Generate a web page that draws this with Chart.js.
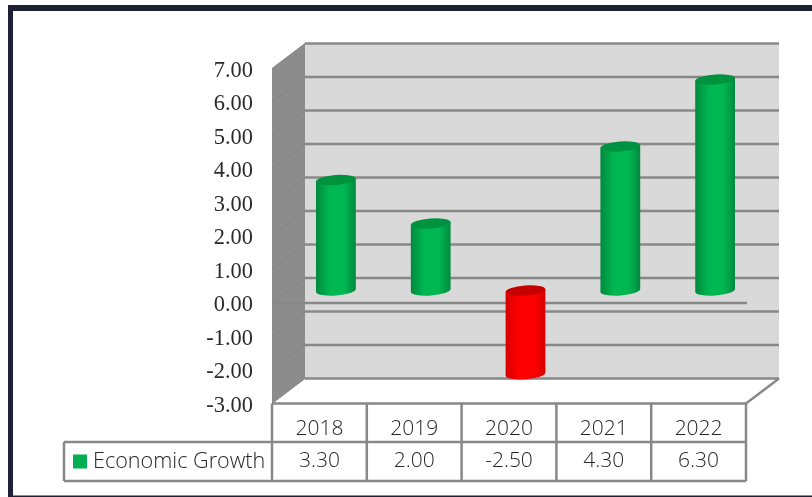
<!DOCTYPE html>
<html>
<head>
<meta charset="utf-8">
<style>
  html, body { margin: 0; padding: 0; background: #fff; }
  #wrap { position: relative; width: 812px; height: 497px; }
</style>
</head>
<body>
<div id="wrap"><canvas id="grafico"></canvas></div>
<script src="https://cdn.jsdelivr.net/npm/chart.js@4/dist/chart.umd.min.js"></script>
<script>
const years = ['2018', '2019', '2020', '2021', '2022'];
const growth = [3.30, 2.00, -2.50, 4.30, 6.30];
const seriesName = 'Economic Growth';
const axisMin = -3;
const axisMax = 7;

// depth of the fake 3D box
const depthX = 33;
const depthY = 25;

const lineColor = '#888888';
const tableFont = '300 21px "Open Sans"';
const legendFont = '300 21.6px "Open Sans"';

function cylinderColors(value) {
    if (value < 0) return { edge: '#d80000', mid: '#ff0000', cap: '#c40000' };
    return { edge: '#008a3e', mid: '#00b852', cap: '#00933f' };
}

function drawCylinder(ctx, x, top, bottom, halfW, value) {
    const c = cylinderColors(value);
    const ry = 5;
    const tilt = -4 * Math.PI / 180;
    const lift = Math.sin(tilt) * halfW;
    const grad = ctx.createLinearGradient(x - halfW, 0, x + halfW, 0);
    grad.addColorStop(0, c.edge);
    grad.addColorStop(0.35, c.mid);
    grad.addColorStop(0.7, c.mid);
    grad.addColorStop(1, c.edge);

    ctx.beginPath();
    ctx.moveTo(x - halfW, top - lift);
    ctx.lineTo(x + halfW, top + lift);
    ctx.lineTo(x + halfW, bottom + lift);
    ctx.ellipse(x, bottom, halfW, ry, tilt, 0, Math.PI);
    ctx.closePath();
    ctx.fillStyle = grad;
    ctx.fill();

    ctx.beginPath();
    ctx.ellipse(x, top, halfW, ry, tilt, 0, Math.PI * 2);
    ctx.fillStyle = c.cap;
    ctx.fill();
}

const boxPlugin = {
    id: 'box3d',
    beforeDraw(chart) {
        const ctx = chart.ctx;
        // picture frame round the chart
        ctx.save();
        ctx.fillStyle = '#1e2136';
        ctx.fillRect(8, 5, 804, 6);
        ctx.fillRect(8, 5, 5, 492);
        ctx.fillRect(8, 495.5, 804, 1.5);
        ctx.restore();
    },
    beforeDatasetsDraw(chart) {
        const ctx = chart.ctx;
        const y = chart.scales.y;
        const { left, right, top, bottom } = chart.chartArea;

        ctx.save();
        // back wall and side wall
        ctx.fillStyle = '#d9d9d9';
        ctx.fillRect(left + depthX, top - depthY, right - left, bottom - top);
        ctx.fillStyle = '#8c8c8c';
        ctx.beginPath();
        ctx.moveTo(left, top);
        ctx.lineTo(left + depthX, top - depthY);
        ctx.lineTo(left + depthX, bottom - depthY);
        ctx.lineTo(left, bottom);
        ctx.closePath();
        ctx.fill();

        // gridlines run along the side wall and across the back
        y.ticks.forEach((tick) => {
            const py = y.getPixelForValue(tick.value);
            ctx.strokeStyle = '#848484';
            ctx.lineWidth = 1;
            ctx.beginPath();
            ctx.moveTo(left, py);
            ctx.lineTo(left + depthX, py - depthY);
            ctx.stroke();
            ctx.strokeStyle = lineColor;
            ctx.lineWidth = 2.6;
            ctx.beginPath();
            ctx.moveTo(left + depthX, py - depthY);
            ctx.lineTo(right + depthX, py - depthY);
            ctx.stroke();
        });

        // floor edge on the right and axis line at zero
        ctx.strokeStyle = lineColor;
        ctx.lineWidth = 2.4;
        ctx.beginPath();
        ctx.moveTo(right, bottom);
        ctx.lineTo(right + depthX, bottom - depthY);
        ctx.stroke();
        const zero = y.getPixelForValue(0);
        ctx.beginPath();
        ctx.moveTo(left, zero);
        ctx.lineTo(right + 1, zero);
        ctx.stroke();
        ctx.restore();
    },
    // the plain bars are replaced by cylinders placed halfway into the box
    beforeDatasetDraw(chart, args) {
        const ctx = chart.ctx;
        const meta = args.meta;
        ctx.save();
        meta.data.forEach((bar, i) => {
            const props = bar.getProps(['x', 'y', 'base', 'width'], true);
            const value = growth[i];
            const x = props.x + depthX / 2;
            const head = props.y - depthY / 2;
            const foot = props.base - depthY / 2;
            if (value >= 0) {
                drawCylinder(ctx, x, head, foot, props.width / 2, value);
            } else {
                drawCylinder(ctx, x, foot, head, props.width / 2, value);
            }
        });
        ctx.restore();
        return false;
    },
    afterDatasetsDraw(chart) {
        const ctx = chart.ctx;
        const x = chart.scales.x;
        const y = chart.scales.y;
        const { left, right, bottom } = chart.chartArea;
        const row1 = bottom + 38.5;
        const row2 = row1 + 39;
        const legendLeft = 64;
        const step = (right - left) / years.length;

        ctx.save();
        // value axis labels sit a little under their gridline
        ctx.fillStyle = '#2b2b2b';
        ctx.font = '22.4px "Liberation Serif"';
        ctx.textAlign = 'right';
        ctx.textBaseline = 'alphabetic';
        y.ticks.forEach((tick) => {
            ctx.fillText(tick.value.toFixed(2), 253, y.getPixelForValue(tick.value) + 8.3);
        });

        // data table under the box
        ctx.strokeStyle = lineColor;
        ctx.lineWidth = 2.5;
        ctx.beginPath();
        ctx.moveTo(left, bottom);
        ctx.lineTo(right, bottom);
        ctx.moveTo(legendLeft, row1);
        ctx.lineTo(right, row1);
        ctx.moveTo(legendLeft, row2);
        ctx.lineTo(right, row2);
        ctx.moveTo(legendLeft, row1);
        ctx.lineTo(legendLeft, row2);
        for (let i = 0; i <= years.length; i++) {
            ctx.moveTo(left + step * i, bottom);
            ctx.lineTo(left + step * i, row2);
        }
        ctx.stroke();

        ctx.fillStyle = '#262626';
        ctx.font = tableFont;
        ctx.textAlign = 'center';
        ctx.textBaseline = 'middle';
        growth.forEach((value, i) => {
            ctx.fillText(value.toFixed(2), x.getPixelForValue(i), row1 + 19.5);
        });
        ctx.font = legendFont;
        ctx.textAlign = 'left';
        ctx.fillText(seriesName, 93, row1 + 19.5);
        ctx.fillStyle = '#00b050';
        ctx.fillRect(73, row1 + 12.5, 14, 14);
        ctx.restore();
    }
};

new Chart(document.getElementById('grafico'), {
    type: 'bar',
    data: {
        labels: years,
        datasets: [{
            label: seriesName,
            data: growth,
            backgroundColor: growth.map((v) => (v < 0 ? '#ff0000' : '#00b050')),
            categoryPercentage: 0.42,
            barPercentage: 1
        }]
    },
    options: {
        responsive: true,
        maintainAspectRatio: false,
        animation: false,
        layout: { padding: { top: 68.5, right: 66, left: 0, bottom: 0 } },
        plugins: { legend: { display: false }, tooltip: { enabled: false } },
        scales: {
            x: {
                grid: { display: false, drawTicks: false },
                border: { display: false },
                ticks: { font: { family: 'Open Sans', size: 21, weight: '300' }, color: '#262626', padding: 13, maxRotation: 0 },
                afterFit(scale) { scale.height = 93.5; }
            },
            y: {
                min: axisMin,
                max: axisMax,
                grid: { display: false, drawTicks: false },
                border: { display: false },
                ticks: { stepSize: 1, display: false },
                afterFit(scale) { scale.width = 272; }
            }
        }
    },
    plugins: [boxPlugin]
});
</script>
</body>
</html>
